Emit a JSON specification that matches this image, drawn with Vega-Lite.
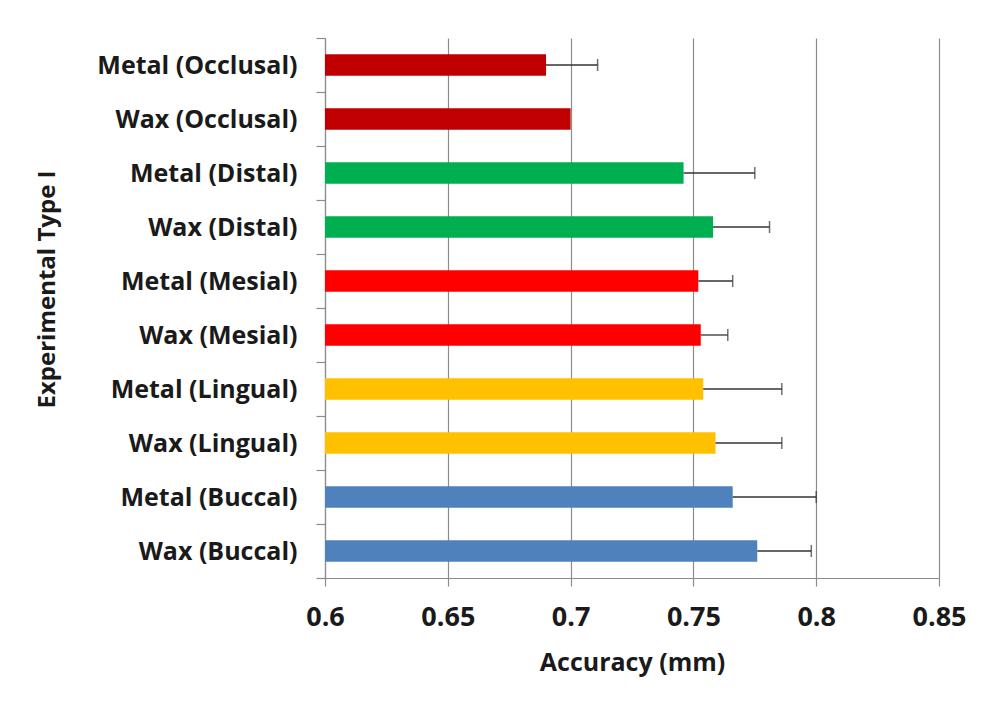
{
  "$schema": "https://vega.github.io/schema/vega-lite/v6.json",
  "autosize": {"type": "none"},
  "width": 614,
  "height": 540,
  "padding": {"left": 325, "top": 38, "right": 50, "bottom": 137},
  "background": "white",
  "config": {
    "view": {"stroke": null},
    "font": "Open Sans",
    "axis": {
      "labelFont": "Open Sans",
      "titleFont": "Open Sans",
      "labelFontWeight": "bold",
      "titleFontWeight": "bold",
      "labelColor": "#1a1a1a",
      "titleColor": "#1a1a1a",
      "domainColor": "#8c8c8c",
      "tickColor": "#8c8c8c",
      "gridColor": "#8c8c8c",
      "domainWidth": 1.2,
      "tickWidth": 1.2,
      "gridWidth": 1.2
    }
  },
  "data": {
    "values": [
      {"cat": "Metal (Occlusal)", "group": "Occlusal", "value": 0.690, "hi": 0.711},
      {"cat": "Wax (Occlusal)", "group": "Occlusal", "value": 0.700, "hi": null},
      {"cat": "Metal (Distal)", "group": "Distal", "value": 0.746, "hi": 0.775},
      {"cat": "Wax (Distal)", "group": "Distal", "value": 0.758, "hi": 0.781},
      {"cat": "Metal (Mesial)", "group": "Mesial", "value": 0.752, "hi": 0.766},
      {"cat": "Wax (Mesial)", "group": "Mesial", "value": 0.753, "hi": 0.764},
      {"cat": "Metal (Lingual)", "group": "Lingual", "value": 0.754, "hi": 0.786},
      {"cat": "Wax (Lingual)", "group": "Lingual", "value": 0.759, "hi": 0.786},
      {"cat": "Metal (Buccal)", "group": "Buccal", "value": 0.766, "hi": 0.800},
      {"cat": "Wax (Buccal)", "group": "Buccal", "value": 0.776, "hi": 0.798}
    ]
  },
  "encoding": {
    "y": {
      "field": "cat",
      "type": "nominal",
      "sort": null,
      "scale": {"paddingInner": 0, "paddingOuter": 0},
      "axis": {
        "title": "Experimental Type I",
        "tickBand": "extent",
        "tickSize": 9,
        "labelPadding": 19,
        "labelLimit": 320,
        "labelFontSize": 25,
        "titleFontSize": 24,
        "titleX": -278,
        "titleY": 251,
        "titleAngle": -90,
        "titleBaseline": "middle",
        "titleAlign": "center",
        "titleAnchor": null,
        "grid": false
      }
    }
  },
  "layer": [
    {
      "mark": {"type": "bar", "clip": true, "height": {"band": 0.4}},
      "encoding": {
        "x": {
          "field": "value",
          "type": "quantitative",
          "scale": {"domain": [0.6, 0.85], "zero": false, "nice": false},
          "axis": {
            "title": "Accuracy (mm)",
            "values": [0.6, 0.65, 0.7, 0.75, 0.8, 0.85],
            "format": ".2~f",
            "grid": true,
            "tickSize": 8,
            "labelPadding": 18,
            "labelFlush": false,
            "labelFontSize": 27,
            "titleFontSize": 25,
            "titlePadding": 20
          }
        },
        "x2": {"datum": 0.6},
        "color": {
          "field": "group",
          "type": "nominal",
          "legend": null,
          "scale": {
            "domain": ["Occlusal", "Distal", "Mesial", "Lingual", "Buccal"],
            "range": ["#C00000", "#00B050", "#FF0000", "#FFC000", "#4F81BD"]
          }
        }
      }
    },
    {
      "transform": [{"filter": "datum.hi != null"}],
      "mark": {"type": "rule", "color": "#333333", "strokeWidth": 1.3},
      "encoding": {
        "x": {"field": "value", "type": "quantitative"},
        "x2": {"field": "hi"}
      }
    },
    {
      "transform": [{"filter": "datum.hi != null"}],
      "mark": {"type": "tick", "orient": "vertical", "color": "#333333", "thickness": 1.5, "size": 12},
      "encoding": {
        "x": {"field": "hi", "type": "quantitative"}
      }
    }
  ]
}
